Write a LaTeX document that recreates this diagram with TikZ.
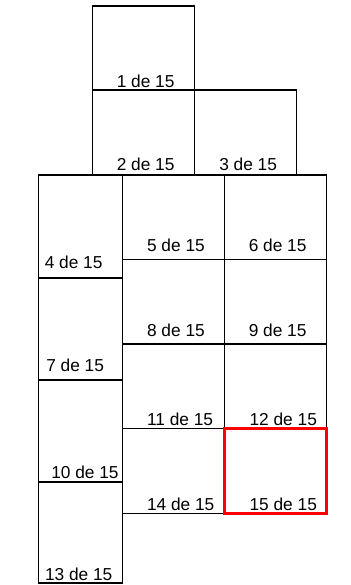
\documentclass[tikz,border=0pt]{standalone}
\usepackage{fontspec}
\setmainfont{Liberation Sans}
\usepackage{tikz}

\begin{document}
\begin{tikzpicture}[x=1pt, y=-1pt, line width=1.5pt,
  pagelbl/.style={anchor=base west, inner sep=0pt, font=\fontsize{17.3}{19}\selectfont}]
\useasboundingbox (0,0) rectangle (350,585);

% Top pages
\draw (92.5,6) rectangle (194.5,90);
\draw (92.5,90) rectangle (194.5,175);
\draw (194.5,90) rectangle (296.5,175);

% Left column (tall pages)
\draw (38.5,175) rectangle (122.5,278);
\draw (38.5,278) rectangle (122.5,380);
\draw (38.5,380) rectangle (122.5,482);
\draw (38.5,482) rectangle (122.5,583);

% Middle and right columns
\draw (122.5,175) rectangle (224.5,259.5);
\draw (224.5,175) rectangle (326.5,259.5);
\draw (122.5,259.5) rectangle (224.5,344);
\draw (224.5,259.5) rectangle (326.5,344);
\draw (122.5,344) rectangle (224.5,428.5);
\draw (224.5,344) rectangle (326.5,428.5);
\draw (122.5,428.5) rectangle (224.5,513.5);

% Current page
\draw[red, line width=2.4pt] (224.5,428.5) rectangle (326.5,513.5);

% Page labels
\node[pagelbl] (p1) at (116,87.3) {1 de 15};
\node[pagelbl] (p2) at (116,170.7) {2 de 15};
\node[pagelbl] (p3) at (218.5,170.7) {3 de 15};
\node[pagelbl] (p4) at (44,268.5) {4 de 15};
\node[pagelbl] (p5) at (146.3,251.7) {5 de 15};
\node[pagelbl] (p6) at (248,251.7) {6 de 15};
\node[pagelbl] (p7) at (45.5,371.5) {7 de 15};
\node[pagelbl] (p8) at (146.3,336) {8 de 15};
\node[pagelbl] (p9) at (248,336) {9 de 15};
\node[pagelbl] (p10) at (50.5,478.3) {10 de 15};
\node[pagelbl] (p11) at (146.3,425) {11 de 15};
\node[pagelbl] (p12) at (248.8,425) {12 de 15};
\node[pagelbl] (p13) at (44.3,580) {13 de 15};
\node[pagelbl] (p14) at (146.3,510) {14 de 15};
\node[pagelbl] (p15) at (248.8,510) {15 de 15};
\end{tikzpicture}
\end{document}
